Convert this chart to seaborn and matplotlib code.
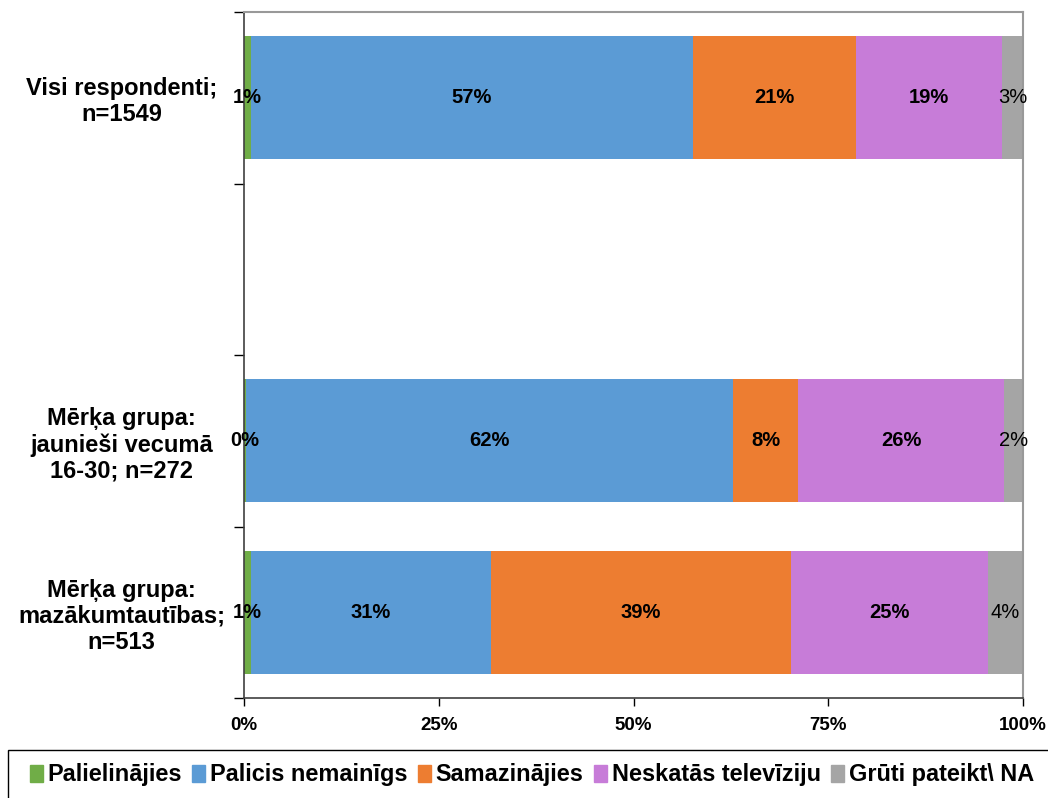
import matplotlib
matplotlib.use("Agg")
import matplotlib.pyplot as plt
import matplotlib.patches as mpatches
import numpy as np
import pandas as pd
import seaborn as sns

# groups (blank slot between the first and second group)
groups = ["Visi respondenti;\nn=1549", " ",
          "Mērķa grupa:\njaunieši vecumā\n16-30; n=272",
          "Mērķa grupa:\nmazākumtautības;\nn=513"]
series = ["Palielinājies", "Palicis nemainīgs", "Samazinājies",
          "Neskatās televīziju", "Grūti pateikt\\ NA"]
colors = ["#70AD47", "#5B9BD5", "#ED7D31", "#C77CD8", "#A5A5A5"]

visi = [0.9, 56.7, 21.0, 18.7, 2.7]
jaunie = [0.3, 62.5, 8.3, 26.5, 2.4]
mazak = [0.9, 30.8, 38.5, 25.3, 4.5]
shown = {"Visi": ["1%", "57%", "21%", "19%", "3%"],
         "Jaun": ["0%", "62%", "8%", "26%", "2%"],
         "Maz": ["1%", "31%", "39%", "25%", "4%"]}

df = pd.DataFrame([visi, jaunie, mazak], columns=series)
df["grupa"] = [groups[0], groups[2], groups[3]]
cum = df[series].cumsum(axis=1)
cum["grupa"] = df["grupa"]

sns.set_style("white")
plt.rcParams['font.family'] = ['Liberation Sans', 'DejaVu Sans']
plt.rcParams['text.color'] = 'black'
plt.rcParams['xtick.color'] = 'black'
plt.rcParams['ytick.color'] = 'black'
narrow = ['Liberation Sans Narrow', 'DejaVu Sans Condensed', 'Liberation Sans']

fig = plt.figure(figsize=(10.48, 7.98), dpi=100)
ax = fig.add_axes([244/1048, 1 - 698/798, (1023-244)/1048, (698-12)/798])

# stacked bars: draw cumulative totals from the back to the front
for s, c in reversed(list(zip(series, colors))):
    sns.barplot(data=cum, y="grupa", x=s, order=groups, orient="h",
                color=c, width=0.72, ax=ax, saturation=1, linewidth=0)

# segment labels
for i, key in enumerate(["Visi", "Jaun", "Maz"]):
    ypos = groups.index(df["grupa"][i])
    left = 0
    for j, s in enumerate(series):
        w = df[s][i]
        bold = "normal" if j == 4 else "bold"
        ax.text(left + w / 2, ypos, shown[key][j], ha="center", va="center",
                fontsize=14.5, fontweight=bold, color="black")
        left += w

ax.set_xlim(0, 100)
ax.set_ylim(3.5, -0.5)
ax.set_xlabel("")
ax.set_ylabel("")
ax.set_xticks([0, 25, 50, 75, 100])
ax.set_xticklabels(["0%", "25%", "50%", "75%", "100%"], fontsize=13.5,
                   fontweight="bold", family=narrow)
ax.set_yticks([-0.5, 0.5, 1.5, 2.5, 3.5])
ax.set_yticklabels([])
ax.set_yticks([0, 2, 3], minor=True)
ax.set_yticklabels([groups[0], groups[2], groups[3]], minor=True,
                   fontsize=17, fontweight="bold", ha="center",
                   linespacing=1.17)
ax.tick_params(axis="y", which="minor", length=0, pad=88)
ax.tick_params(axis="y", which="major", length=7, direction="out", left=True, width=1)
ax.tick_params(axis="x", length=6, direction="out", bottom=True, width=1, pad=8)
for side in ["left", "bottom"]:
    ax.spines[side].set_color("#404040")
    ax.spines[side].set_linewidth(1.2)
for side in ["top", "right"]:
    ax.spines[side].set_color("#999999")
    ax.spines[side].set_linewidth(1.5)

# legend box across the bottom
fig.patches.append(mpatches.Rectangle((8/1048, -0.01), 1.0, (798-750)/798 + 0.01,
                                      transform=fig.transFigure, fill=False,
                                      edgecolor="black", linewidth=1))
handles = [mpatches.Patch(color=c, label=s) for s, c in zip(series, colors)]
leg = fig.legend(handles=handles, loc="center", bbox_to_anchor=(0.5075, 0.029),
                 ncol=5, frameon=False,
                 handlelength=0.55, handleheight=0.75, handletextpad=0.2,
                 columnspacing=0.45,
                 prop={"family": narrow, "weight": "bold", "size": 16.9})

fig.savefig("out.png", dpi=100)
